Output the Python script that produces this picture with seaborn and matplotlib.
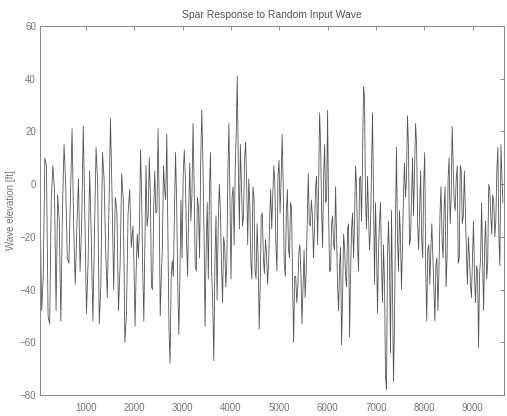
import numpy as np
import pandas as pd
import matplotlib
matplotlib.use("Agg")
import matplotlib.pyplot as plt
import seaborn as sns

# Wave elevation [ft]: (top, bottom) of each visible oscillation stroke, left to right,
# grouped by time span
seg1_span = (50, 1971)
seg1 = [(-6, -48), (10, -35), (7, -50), (-6, -53), (7, -2), (-4, -48), (-14, -52), (15, -10),
        (0, -28), (-5, -30), (21, -16), (-16, -38), (2, -33), (22, -15), (-12, -49), (5, -30),
        (-20, -52), (14, -19), (0, -53), (12, -38), (2, -25), (-11, -43), (25, -5), (-5, -40),
        (-10, -48), (4, -31), (-6, -60), (-11, -49), (-2, -24)]

seg2_span = (1971, 3872)
seg2 = [(-16, -30), (-33, -54), (-19, -28), (13, -16), (-4, -33), (-23, -52), (7, -16),
        (10, -12), (-4, -39), (-10, -40), (5, -11), (21, -10), (-5, -50), (-23, -35), (7, -2),
        (19, -6), (-17, -55), (-36, -68), (-29, -35), (12, -12), (-6, -38), (-35, -57),
        (-6, -28), (13, 4), (2, -20), (-11, -35), (8, -14), (23, -4), (0, -31), (-5, -33),
        (-9, -28), (28, 8), (9, -17), (-25, -54), (-7, -36), (12, -2), (-33, -45), (-30, -67),
        (-12, -44), (0, -16), (-10, -30), (-20, -45)]

seg3_span = (3872, 5773)
seg3 = [(-24, -39), (4, -30), (23, -7), (-5, -36), (-1, -23), (20, 5), (41, 7), (15, -17),
        (0, -16), (10, -12), (16, 0), (2, -23), (-7, -30), (-1, -36), (-5, -33), (-15, -36),
        (-28, -55), (-12, -38), (-11, -28), (-21, -34), (-26, -38), (-14, -30), (-2, -17),
        (7, -4), (0, -23), (3, -33), (9, -11), (19, 2), (-1, -30), (-11, -35), (-2, -24),
        (-7, -28), (-9, -38), (-35, -60), (-35, -45), (-26, -39), (-23, -34), (-39, -53),
        (-25, -43), (-14, -33), (4, -15), (-6, -16), (-12, -28), (-1, -17)]

seg4_span = (5773, 7674)
seg4 = [(3, -23), (27, -1), (15, -10), (2, -24), (15, -7), (28, -6), (-11, -33), (-15, -33),
        (-12, -23), (-1, -25), (-20, -39), (-31, -48), (-24, -61), (-19, -43), (-24, -35),
        (-17, -39), (-15, -58), (-17, -35), (-11, -28), (7, -14), (-1, -23), (2, -33), (3, -14),
        (37, 9), (33, -6), (3, -17), (-12, -25), (5, -16), (27, -6), (-7, -38), (-25, -49),
        (-14, -25), (-7, -30), (-23, -45), (-38, -73), (-28, -78), (-14, -30), (-10, -64),
        (-40, -75), (-14, -53), (14, -21), (-10, -33), (-20, -40), (-4, -23), (8, -5), (26, 2)]

seg5_span = (7674, 9650)
seg5 = [(14, -23), (-5, -21), (10, -12), (23, 5), (15, -15), (-10, -25), (5, -21), (0, -28),
        (12, -33), (-25, -52), (-23, -38), (-15, -25), (-28, -39), (-31, -52), (-28, -48),
        (-12, -33), (-1, -20), (-10, -28), (-1, -39), (2, -28), (10, -15), (22, -5), (8, -7),
        (2, -10), (7, -30), (7, -28), (5, -15), (5, -12), (-10, -25), (-20, -38), (-28, -38),
        (-28, -43), (-14, -35), (-31, -45), (-33, -62), (-28, -34), (-7, -30), (-23, -48),
        (-14, -36), (0, -30), (-2, -12), (-4, -19), (-7, -20), (5, -14), (14, -20), (15, -31),
        (3, -7)]

segments = [(seg1_span, seg1), (seg2_span, seg2), (seg3_span, seg3),
            (seg4_span, seg4), (seg5_span, seg5)]

x_ticks = [1000, 2000, 3000, 4000, 5000, 6000, 7000, 8000, 9000]
y_ticks = [-80, -60, -40, -20, 0, 20, 40, 60]

# build the series
times, elev = [], []
for (t0, t1), strokes in segments:
    n = len(strokes)
    ts = np.linspace(t0, t1, 2 * n, endpoint=False)
    vals = []
    for i, (top, bot) in enumerate(strokes):
        vals += [top, bot] if i % 2 == 0 else [bot, top]
    times += list(ts)
    elev += vals
df = pd.DataFrame({"t": times, "elev": elev})

sns.set_style("white")
plt.rcParams["font.family"] = ["Liberation Sans", "DejaVu Sans"]

fig = plt.figure(figsize=(5.07, 4.16), dpi=100)
ax = fig.add_axes([0.079, 0.0505, 0.915, 0.887])
sns.lineplot(data=df, x="t", y="elev", ax=ax, estimator=None, sort=False,
             color="#555555", linewidth=0.6)

ax.set_xlim(50, 9650)
ax.set_ylim(-80, 60)
ax.set_xticks(x_ticks)
ax.set_yticks(y_ticks)
ax.tick_params(direction="in", top=True, right=True, length=3, width=0.6,
               labelsize=7, colors="#777777", pad=6)
ax.tick_params(axis="y", pad=3)
for s in ax.spines.values():
    s.set_color("#888888")
    s.set_linewidth(0.7)
ax.set_xlabel("")
ax.set_ylabel("Wave elevation [ft]", fontsize=7, color="#777777", labelpad=2)
ax.set_title("Spar Response to Random Input Wave", fontsize=7.5, color="#555555", pad=6)

fig.savefig("out.png", dpi=100)
